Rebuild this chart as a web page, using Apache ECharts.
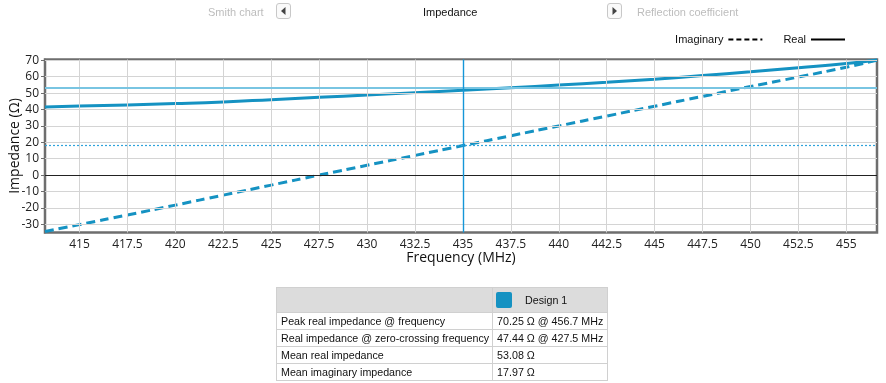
<!DOCTYPE html>
<html><head><meta charset="utf-8">
<script src="https://cdn.jsdelivr.net/npm/echarts@6/dist/echarts.min.js"></script>
<style>
html,body{margin:0;padding:0;background:#fff;width:886px;height:383px;overflow:hidden;font-family:"Liberation Sans",Arial,sans-serif;}
#chart{position:absolute;left:0;top:0;width:886px;height:383px;}
.nav{position:absolute;top:4px;font-size:11px;line-height:16px;}
.btn{position:absolute;top:3px;width:15px;height:16px;border:1px solid #c8c8c8;border-radius:3px;background:#fafafa;box-sizing:border-box;}
table{position:absolute;left:276px;top:287px;border-collapse:collapse;font-size:10.7px;color:#111;}
td{border:1px solid #d0d0d0;height:16px;padding:0 3px 0 4px;white-space:nowrap;}
</style></head><body>
<div id="chart"></div>
<div class="nav" style="left:208px;color:#bdbdbd">Smith chart</div>
<div class="btn" style="left:276px"><svg width="13" height="14"><polygon points="8.5,3 8.5,11 4,7" fill="#444"/></svg></div>
<div class="nav" style="left:423px;color:#111">Impedance</div>
<div class="btn" style="left:607px"><svg width="13" height="14"><polygon points="4.5,3 4.5,11 9,7" fill="#444"/></svg></div>
<div class="nav" style="left:637px;color:#bdbdbd">Reflection coefficient</div>
<table id="tbl"></table>
<script>
// ---- data ----
const freq = [413.2, 415, 417.5, 420, 422.5, 425, 427.5, 430, 432.5, 435, 437.5, 440, 442.5, 445, 447.5, 450, 452.5, 455, 456.6];
const realZ = [41.6, 42.1, 42.8, 43.6, 44.6, 46.0, 47.44, 48.8, 50.3, 51.8, 53.3, 54.9, 56.6, 58.5, 60.7, 63.0, 65.5, 68.1, 70.25];
const imagZ = [-34.4, -30.2, -24.3, -18.3, -12.2, -6.1, 0.0, 6.0, 12.0, 18.0, 24.0, 30.0, 36.0, 42.0, 48.0, 54.0, 59.8, 65.8, 70.1];
const xTicks = [415, 417.5, 420, 422.5, 425, 427.5, 430, 432.5, 435, 437.5, 440, 442.5, 445, 447.5, 450, 452.5, 455];
const yTicks = [-30, -20, -10, 0, 10, 20, 30, 40, 50, 60, 70];
const meanReal = 53.08;
const meanImag = 17.97;
const markerFreq = 435;
const seriesNames = ['Imaginary', 'Real'];
const tableHeader = 'Design 1';
const tableRows = [
  ['Peak real impedance @ frequency', '70.25 \u03A9 @ 456.7 MHz'],
  ['Real impedance @ zero-crossing frequency', '47.44 \u03A9 @ 427.5 MHz'],
  ['Mean real impedance', '53.08 \u03A9'],
  ['Mean imaginary impedance', '17.97 \u03A9']
];
const xMin = 413.2, xMax = 456.6, yMin = -35, yMax = 70.5;

// ---- table ----
let html = '<tr style="background:#dcdcdc"><td style="width:208px;height:24px"></td><td style="width:108px;height:24px;padding-left:3px"><span style="display:inline-block;width:16px;height:16px;background:#1592c2;border-radius:2px;vertical-align:middle"></span><span style="margin-left:13px;vertical-align:middle">' + tableHeader + '</span></td></tr>';
tableRows.forEach(r => { html += '<tr><td>' + r[0] + '</td><td>' + r[1] + '</td></tr>'; });
document.getElementById('tbl').innerHTML = html;

const chart = echarts.init(document.getElementById('chart'));
const lineColor = '#1592c2';
const gridLine = {color: '#d4d4d4', width: 1, type: 'solid'};
const noSym = {color: 'rgba(0,0,0,0)', borderWidth: 0, opacity: 0};
chart.setOption({
  animation: false,
  color: [lineColor],
  textStyle: {fontFamily: '"Open Sans", "Noto Sans", sans-serif'},
  legend: {
    right: 35, top: 29, itemGap: 20, itemWidth: 34, itemHeight: 12, itemTextGap: 7, align: 'right',
    textStyle: {fontSize: 11, color: '#111', fontFamily: '"Liberation Sans", Arial, sans-serif'},
    data: [
      {name: 'Imaginary', lineStyle: {color: '#000', width: 2, type: [5, 3]}, itemStyle: noSym},
      {name: 'Real', lineStyle: {color: '#000', width: 2, type: 'solid'}, itemStyle: noSym}
    ]
  },
  grid: {left: 45, right: 9, top: 59.5, bottom: 150.5, show: true, borderColor: '#6e6e6e', borderWidth: 2.5, backgroundColor: '#fff', outerBoundsMode: 'none', containLabel: false},
  xAxis: {
    type: 'value', min: xMin, max: xMax,
    name: 'Frequency (MHz)', nameLocation: 'middle', nameGap: 19,
    nameTextStyle: {fontSize: 14, color: '#111'},
    axisLine: {show: false}, axisTick: {show: false},
    axisLabel: {fontSize: 12, color: '#222', margin: 6, customValues: xTicks, formatter: v => String(v)},
    splitLine: {show: false}
  },
  yAxis: {
    type: 'value', min: yMin, max: yMax,
    name: 'Impedance (\u03A9)', nameLocation: 'middle', nameGap: 23, nameMoveOverlap: false,
    nameTextStyle: {fontSize: 14, color: '#111'},
    axisLine: {show: true, lineStyle: {color: '#6e6e6e', width: 2}},
    axisTick: {show: true, length: 4, customValues: yTicks, lineStyle: {color: '#6e6e6e'}},
    axisLabel: {fontSize: 12, color: '#222', margin: 6, customValues: yTicks, formatter: v => String(v)},
    splitLine: {show: false}
  },
  series: [
    {
      name: 'gridlines', type: 'line', data: [], z: 1, silent: true,
      markLine: {
        silent: true, symbol: 'none', label: {show: false}, animation: false,
        lineStyle: gridLine,
        data: xTicks.filter(v => v !== markerFreq).map(v => ({xAxis: v})).concat(yTicks.filter(v => v !== 0).map(v => ({yAxis: v})))
      }
    },
    {
      name: seriesNames[0], type: 'line', smooth: true, showSymbol: false, symbol: 'none',
      data: freq.map((f, i) => [f, imagZ[i]]),
      lineStyle: {color: lineColor, width: 3, type: [9, 5]}, itemStyle: {color: lineColor}, z: 3,
      markLine: {
        silent: true, symbol: 'none', label: {show: false}, animation: false,
        lineStyle: {color: lineColor},
        data: [
          {yAxis: 0, lineStyle: {color: '#222', width: 1, type: 'solid'}},
          {yAxis: meanReal, lineStyle: {color: '#79c5e2', width: 2, type: 'solid'}},
          {yAxis: meanImag, lineStyle: {color: '#2fa3dc', width: 1.2, type: [2, 2]}},
          {xAxis: markerFreq, lineStyle: {color: '#1596d8', width: 1.4, type: 'solid'}}
        ]
      }
    },
    {
      name: seriesNames[1], type: 'line', smooth: true, showSymbol: false, symbol: 'none',
      data: freq.map((f, i) => [f, realZ[i]]),
      lineStyle: {color: lineColor, width: 3, type: 'solid'}, itemStyle: {color: lineColor}, z: 4
    }
  ]
});
</script>
</body></html>
